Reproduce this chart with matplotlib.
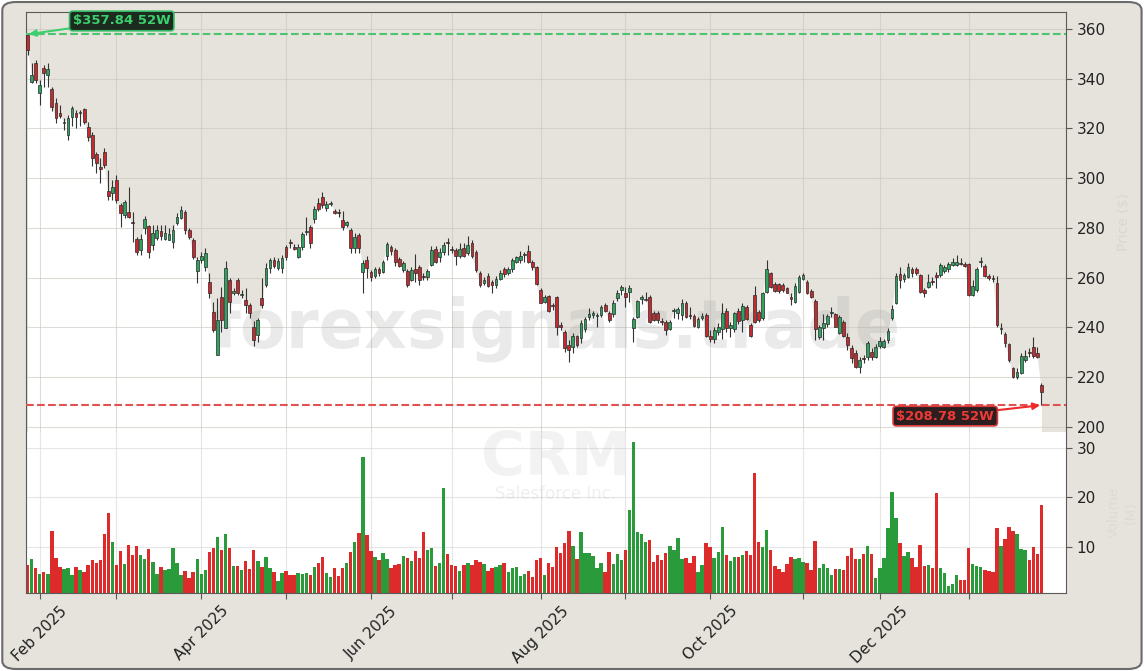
import numpy as np
import pandas as pd
import matplotlib
matplotlib.use("Agg")
import matplotlib.pyplot as plt
from matplotlib.patches import FancyBboxPatch

# ---- data (CRM daily, late Jan 2025 -> late Jan 2026) ----
start_date = "2025-01-29"
holidays = ["2025-02-17", "2025-04-18", "2025-05-26", "2025-06-19", "2025-07-04",
            "2025-09-01", "2025-11-27", "2025-12-25", "2026-01-01", "2026-01-19"]

opens = [357.6, 338.7, 346.3, 334.3, 344.3, 341.5, 335.9, 330.3, 326.2, 322.0,
         317.4, 324.6, 326.2, 326.4, 327.8, 320.6, 317.4, 309.7, 304.5, 310.5,
         294.9, 294.1, 299.3, 289.1, 285.2, 286.4, 282.2, 275.6, 271.2, 280.0,
         280.8, 273.2, 276.0, 278.8, 275.6, 275.2, 274.4, 282.0, 284.0, 286.4,
         279.2, 275.2, 262.7, 267.2, 264.3, 258.3, 246.3, 229.0, 252.3, 239.8,
         259.1, 254.0, 259.1, 253.0, 251.1, 249.0, 240.2, 237.0, 251.8, 257.1,
         263.9, 267.2, 264.0, 263.9, 272.4, 274.2, 272.4, 268.3, 272.4, 278.2,
         280.4, 283.6, 290.0, 292.4, 288.0, 289.8, 287.0, 286.6, 283.2, 281.0,
         279.2, 272.0, 277.2, 262.3, 267.2, 262.3, 260.7, 263.5, 262.3, 268.7,
         272.4, 271.2, 267.5, 263.1, 262.7, 259.1, 263.5, 264.3, 260.5, 260.3,
         265.2, 271.6, 268.3, 270.4, 274.2, 271.4, 271.2, 268.7, 272.0, 270.0,
         274.0, 270.4, 262.0, 258.0, 260.7, 258.3, 257.1, 259.5, 263.5, 262.0,
         263.5, 266.3, 267.2, 269.2, 270.8, 266.3, 264.3, 255.0, 250.2, 252.7,
         249.2, 252.3, 241.0, 238.2, 233.0, 232.2, 236.6, 235.8, 239.4, 244.2,
         245.0, 244.8, 245.0, 249.0, 245.8, 245.4, 252.0, 255.0, 253.9, 254.3,
         239.8, 244.2, 251.5, 251.2, 252.3, 245.8, 245.8, 242.8, 242.2, 239.4,
         246.6, 245.8, 245.0, 249.8, 245.0, 244.6, 240.2, 244.0, 245.0, 236.6,
         235.4, 238.2, 239.4, 246.7, 239.8, 239.4, 246.7, 243.0, 248.2, 241.0,
         253.0, 246.3, 243.8, 254.3, 262.0, 257.5, 257.5, 257.0, 256.0, 252.3,
         250.2, 254.3, 259.5, 258.3, 254.7, 250.6, 236.2, 239.8, 241.4, 245.8,
         245.4, 237.8, 242.2, 236.2, 231.6, 229.6, 224.3, 227.8, 228.3, 230.3,
         228.3, 232.6, 232.3, 235.0, 243.7, 249.7, 261.5, 259.4, 260.4, 263.4,
         263.4, 261.1, 255.1, 256.2, 258.8, 261.1, 261.1, 262.9, 263.4, 265.1,
         265.1, 266.0, 265.5, 265.5, 253.1, 255.1, 266.3, 264.7, 260.7, 260.0,
         257.8, 239.3, 237.4, 233.4, 223.6, 220.2, 221.8, 226.9, 230.3, 232.0,
         229.6, 216.9]
highs = [357.84, 346.3, 347.5, 339.5, 345.5, 346.3, 336.7, 332.3, 329.5, 324.2,
         325.4, 329.0, 327.4, 327.4, 328.2, 322.6, 318.5, 310.5, 308.0, 312.0,
         303.3, 299.3, 301.3, 290.0, 291.3, 296.5, 286.4, 276.4, 277.6, 284.8,
         281.2, 281.2, 281.0, 281.0, 281.0, 280.0, 281.0, 286.0, 288.8, 287.2,
         280.0, 276.0, 268.3, 270.4, 272.0, 262.0, 250.4, 252.0, 256.3, 266.8,
         260.0, 256.0, 260.0, 255.0, 256.0, 250.0, 242.6, 244.0, 260.0, 266.0,
         268.0, 268.5, 268.0, 269.0, 273.2, 275.5, 273.5, 273.5, 278.4, 284.4,
         281.0, 288.8, 292.0, 294.6, 291.0, 291.0, 287.6, 287.6, 287.0, 283.0,
         280.0, 278.0, 278.0, 267.2, 268.7, 263.0, 264.2, 264.2, 267.2, 274.4,
         273.0, 272.0, 268.2, 266.6, 263.5, 264.5, 269.5, 265.0, 261.8, 263.5,
         272.7, 272.6, 271.8, 274.5, 276.0, 272.7, 271.8, 273.8, 273.8, 276.8,
         275.2, 271.2, 262.7, 260.4, 261.8, 259.0, 260.6, 263.1, 264.2, 264.2,
         267.8, 268.7, 270.9, 270.5, 273.2, 267.0, 264.7, 255.7, 253.2, 253.0,
         250.0, 252.7, 242.3, 239.0, 235.0, 237.7, 237.0, 243.0, 244.4, 247.8,
         246.8, 246.0, 249.0, 250.0, 246.8, 251.0, 255.0, 257.2, 256.2, 257.1,
         244.4, 251.1, 253.1, 254.4, 253.1, 246.8, 246.8, 243.7, 243.0, 243.0,
         247.7, 248.4, 251.3, 250.8, 248.4, 245.4, 244.4, 245.9, 245.7, 239.0,
         240.3, 241.9, 250.0, 247.7, 242.3, 246.4, 247.7, 249.7, 249.0, 241.7,
         256.7, 247.0, 254.4, 267.1, 262.4, 258.4, 258.0, 257.7, 256.4, 253.7,
         257.7, 261.1, 262.0, 259.1, 255.3, 251.3, 241.0, 245.4, 245.4, 248.4,
         246.0, 245.0, 243.0, 237.7, 233.0, 230.9, 228.3, 228.9, 234.7, 231.6,
         233.4, 236.1, 235.5, 239.7, 249.0, 261.8, 264.2, 261.8, 265.8, 264.2,
         264.2, 261.5, 255.8, 261.5, 260.4, 262.4, 266.1, 265.1, 266.5, 267.8,
         269.1, 267.8, 266.5, 265.8, 259.1, 264.5, 268.2, 265.5, 261.5, 261.1,
         260.7, 241.9, 238.3, 233.7, 224.3, 223.6, 229.6, 230.9, 231.6, 236.0,
         232.0, 217.8]
lows = [349.6, 338.3, 338.3, 329.5, 336.7, 336.7, 327.0, 322.2, 324.2, 319.4,
        315.4, 321.0, 320.0, 321.0, 321.8, 315.0, 305.0, 302.0, 298.0, 304.0,
        291.3, 291.3, 290.0, 280.4, 284.0, 284.0, 274.4, 269.2, 269.2, 277.6,
        268.0, 271.0, 275.0, 275.0, 275.0, 275.0, 272.0, 281.0, 283.6, 277.6,
        275.6, 267.5, 258.0, 266.0, 262.7, 252.0, 238.0, 229.0, 238.0, 239.8,
        246.0, 253.0, 253.0, 252.0, 245.8, 244.0, 232.6, 234.0, 248.0, 256.3,
        262.0, 264.0, 263.0, 262.0, 267.0, 272.0, 271.0, 268.0, 271.0, 277.0,
        272.0, 282.0, 287.0, 288.0, 287.0, 289.0, 285.5, 284.6, 279.0, 280.5,
        270.0, 270.0, 270.0, 253.9, 260.0, 258.7, 260.0, 260.5, 261.8, 267.0,
        269.2, 264.7, 264.2, 262.5, 256.3, 258.5, 258.3, 257.0, 259.0, 259.0,
        264.8, 265.8, 266.5, 269.2, 269.0, 270.0, 265.2, 267.8, 268.2, 269.0,
        267.8, 262.5, 256.4, 257.1, 256.2, 253.9, 255.8, 258.9, 260.4, 261.1,
        262.5, 265.8, 265.8, 266.5, 265.8, 263.1, 257.1, 249.7, 250.0, 246.4,
        247.0, 237.0, 239.0, 230.0, 226.0, 229.6, 232.3, 233.8, 238.3, 243.0,
        243.7, 240.0, 244.4, 246.4, 242.3, 244.4, 250.8, 253.1, 248.1, 250.4,
        234.3, 243.7, 249.5, 250.8, 241.7, 242.8, 241.7, 241.0, 237.0, 239.0,
        243.7, 243.3, 243.0, 243.7, 243.3, 240.1, 239.7, 243.0, 236.3, 234.3,
        233.9, 237.0, 235.3, 238.0, 236.3, 238.0, 241.4, 238.3, 243.0, 236.3,
        241.7, 242.4, 243.0, 253.7, 255.7, 254.4, 254.0, 254.4, 253.7, 249.1,
        250.0, 253.7, 258.9, 253.5, 251.7, 235.0, 235.2, 235.0, 240.3, 244.1,
        240.1, 237.4, 236.0, 231.0, 225.6, 223.6, 221.8, 225.9, 227.0, 227.0,
        227.6, 231.6, 231.6, 233.6, 243.0, 249.4, 255.8, 258.4, 259.8, 260.4,
        261.1, 253.7, 252.4, 255.8, 257.1, 255.7, 260.4, 261.8, 262.4, 264.7,
        264.7, 265.1, 264.2, 252.7, 252.7, 254.4, 264.5, 260.4, 259.1, 258.4,
        240.3, 237.4, 232.3, 226.3, 219.6, 219.2, 221.3, 226.3, 228.3, 227.6,
        227.6, 208.78]
closes = [351.6, 341.5, 339.5, 337.5, 342.3, 343.9, 328.6, 324.2, 325.0, 322.6,
          324.2, 328.2, 324.6, 326.8, 322.6, 316.6, 308.1, 306.1, 303.7, 305.3,
          292.9, 296.5, 291.3, 286.0, 290.4, 284.4, 281.8, 270.4, 275.6, 283.6,
          270.4, 278.0, 279.2, 276.8, 278.0, 277.6, 279.2, 284.4, 287.2, 279.2,
          276.4, 268.3, 267.2, 268.7, 270.0, 253.9, 239.0, 243.0, 243.0, 263.9,
          250.2, 254.6, 253.9, 253.4, 249.0, 245.8, 235.0, 243.0, 249.0, 263.9,
          267.2, 264.7, 266.7, 268.0, 268.3, 273.8, 271.6, 272.4, 277.6, 278.6,
          274.0, 287.6, 287.6, 289.2, 289.6, 290.2, 286.0, 286.2, 280.4, 282.5,
          272.0, 276.4, 272.0, 266.0, 264.0, 260.3, 263.5, 262.0, 266.3, 273.6,
          270.8, 266.3, 264.7, 266.0, 257.1, 263.1, 262.0, 259.1, 260.1, 262.7,
          271.2, 266.3, 270.4, 273.2, 273.8, 271.0, 268.7, 271.6, 268.7, 273.2,
          268.7, 263.1, 257.1, 259.1, 256.7, 257.1, 259.5, 262.0, 261.5, 263.5,
          267.2, 268.3, 268.7, 269.6, 266.3, 264.3, 257.5, 249.8, 252.3, 246.7,
          248.8, 240.2, 240.2, 231.8, 231.0, 236.6, 233.0, 241.8, 243.4, 245.4,
          245.8, 245.2, 248.2, 246.7, 243.0, 249.8, 253.9, 256.3, 252.3, 256.0,
          243.4, 250.6, 252.3, 251.6, 242.2, 243.0, 243.0, 242.4, 239.0, 242.2,
          247.0, 247.4, 249.8, 244.2, 244.6, 240.6, 243.4, 244.6, 236.6, 235.4,
          239.0, 240.2, 245.8, 239.8, 241.0, 245.8, 242.6, 248.6, 243.4, 236.6,
          242.2, 243.0, 253.9, 263.5, 256.3, 254.7, 254.7, 255.0, 254.0, 251.5,
          256.7, 260.3, 261.1, 253.9, 252.3, 239.4, 240.2, 241.8, 244.6, 246.2,
          240.2, 244.2, 236.6, 233.0, 227.6, 224.3, 227.0, 227.4, 233.9, 228.3,
          232.3, 234.7, 234.7, 238.7, 247.3, 260.7, 259.1, 261.1, 264.2, 262.1,
          262.1, 254.4, 253.7, 258.4, 258.3, 260.2, 265.1, 264.2, 265.5, 266.5,
          266.5, 265.6, 264.7, 253.1, 256.7, 263.4, 266.7, 260.7, 260.0, 259.6,
          241.0, 239.7, 233.6, 227.0, 220.2, 222.2, 228.5, 228.5, 229.9, 228.5,
          228.0, 214.2]
volumes_m = [6.4, 7.6, 5.8, 4.6, 5.0, 4.6, 13.3, 7.8, 6.0, 5.6,
             5.8, 4.4, 6.0, 5.4, 5.0, 6.4, 7.4, 6.8, 7.4, 12.6,
             16.9, 11.0, 6.4, 9.2, 6.6, 10.4, 8.4, 10.2, 8.4, 7.6,
             9.6, 7.0, 4.6, 6.0, 5.4, 5.6, 9.8, 6.8, 4.4, 5.2,
             3.8, 5.0, 7.6, 4.6, 5.4, 9.0, 9.8, 12.0, 9.4, 12.6,
             9.8, 6.2, 6.2, 5.4, 7.2, 5.6, 9.4, 7.2, 6.0, 8.0,
             5.8, 5.0, 3.2, 4.8, 5.2, 4.4, 4.4, 4.8, 4.6, 4.8,
             4.4, 6.0, 6.8, 8.0, 4.8, 4.0, 5.8, 4.2, 5.8, 6.8,
             9.0, 11.0, 12.8, 28.2, 12.4, 9.2, 8.0, 7.4, 8.8, 7.6,
             5.8, 6.4, 6.6, 8.2, 7.8, 7.2, 9.2, 7.8, 13.0, 9.4,
             9.8, 6.2, 6.8, 21.9, 8.6, 6.4, 6.2, 5.2, 6.4, 6.8,
             6.4, 7.4, 7.0, 6.6, 5.2, 5.8, 6.0, 6.4, 6.8, 5.0,
             5.8, 6.0, 4.2, 4.6, 5.2, 4.0, 7.4, 7.8, 4.4, 6.8,
             6.0, 10.0, 8.8, 10.8, 13.3, 10.2, 7.6, 13.0, 8.8, 8.8,
             8.2, 5.8, 6.8, 5.0, 9.0, 6.6, 8.6, 7.4, 9.4, 17.5,
             31.2, 13.0, 12.6, 11.0, 11.4, 7.0, 8.4, 7.4, 8.8, 10.2,
             9.4, 11.8, 7.6, 7.8, 6.8, 8.2, 5.0, 6.4, 10.8, 10.0,
             7.8, 9.0, 14.1, 8.4, 7.2, 8.0, 8.0, 8.4, 9.2, 8.4,
             24.9, 11.0, 10.0, 13.5, 9.4, 6.2, 5.6, 5.0, 6.6, 8.0,
             7.6, 7.8, 7.0, 6.8, 5.4, 11.2, 5.8, 6.6, 5.8, 4.4,
             5.6, 5.6, 5.4, 8.2, 9.8, 7.6, 7.6, 8.6, 10.2, 8.6,
             3.8, 5.8, 7.8, 13.9, 21.1, 15.9, 10.8, 8.2, 9.0, 7.8,
             6.0, 10.4, 6.2, 6.4, 5.8, 20.9, 5.8, 4.8, 2.2, 2.6,
             4.4, 3.4, 3.4, 9.8, 6.6, 6.2, 6.0, 5.4, 5.2, 5.0,
             13.9, 10.2, 11.6, 14.1, 13.3, 12.6, 9.6, 9.4, 7.4, 10.0,
             8.6, 18.5]

high_52w = 357.84
low_52w = 208.78
ticker = "CRM"
company = "Salesforce Inc."

# ---- derived ----
n = len(closes)
x = np.arange(n)
o = np.array(opens)
h = np.array(highs)
l = np.array(lows)
c = np.array(closes)
v = np.array(volumes_m)
up = c >= o
dates = pd.bdate_range(start_date, periods=n, freq="C", holidays=holidays)

BG = "#e6e3dc"
UP_BODY, DN_BODY = "#2ea35f", "#c62a2f"
UP_VOL, DN_VOL = "#1e9630", "#dc1f1f"
SPINE = "#5a5a5a"

fig = plt.figure(figsize=(11.45, 6.71), dpi=100, facecolor="white")
fig.patches.append(FancyBboxPatch((0.002, 0.003), 0.995, 0.994,
                                  boxstyle="round,pad=0,rounding_size=0.012",
                                  transform=fig.transFigure, fc=BG, ec="#6a6a6a",
                                  lw=1.5, zorder=-10))

L, W = 0.0227, 0.9083
ax = fig.add_axes([L, 0.3562, W, 0.6259])
axv = fig.add_axes([L, 0.1162, W, 0.2400], sharex=ax)

# ---- price panel ----
ax.set_facecolor(BG)
ax.fill_between(x, c, 150, color="white", zorder=0.2, lw=0)
ax.vlines(x, l, h, color="#333333", lw=0.8, zorder=2)
body_h = np.maximum(np.abs(c - o), 0.35)
ax.bar(x, body_h, bottom=np.minimum(o, c), width=0.68,
       color=np.where(up, UP_BODY, DN_BODY), edgecolor="#2a2a2a", linewidth=0.5, zorder=3)

ax.axhline(high_52w, color="#4cc470", ls="--", lw=1.5, zorder=4)
ax.axhline(low_52w, color="#e05252", ls="--", lw=1.5, zorder=4)
ax.annotate(r"\$%.2f 52W" % high_52w, xy=(0, high_52w), xytext=(23.3, 363.2),
            ha="center", va="center", fontsize=9.5, fontweight="bold", color="#3ccf6e",
            bbox=dict(boxstyle="round,pad=0.25", fc="#1c2a20", ec="#33b862", lw=1.2),
            arrowprops=dict(arrowstyle="-|>", color="#3ccf6e", lw=1.5, mutation_scale=10,
                            shrinkA=0, shrinkB=1), zorder=6)
ax.annotate(r"\$%.2f 52W" % low_52w, xy=(n - 1, low_52w), xytext=(227.2, 204.4),
            ha="center", va="center", fontsize=9.5, fontweight="bold", color="#ee3a36",
            bbox=dict(boxstyle="round,pad=0.25", fc="#2c1e1e", ec="#d83a3a", lw=1.2),
            arrowprops=dict(arrowstyle="-|>", color="#ee2a2a", lw=1.5, mutation_scale=10,
                            shrinkA=0, shrinkB=1), zorder=6)

ax.text(0.51, 0.245, "forexsignals.trade", transform=ax.transAxes, ha="center",
        va="center", fontsize=48, fontweight="bold", color="#9a9a9a", alpha=0.2, zorder=1)

ax.set_ylim(198.0, 366.8)
ax.set_yticks(np.arange(200, 361, 20))
ax.yaxis.tick_right()
ax.yaxis.set_label_position("right")
ax.set_ylabel("Price ($)", color="#dad7d0", fontsize=10, labelpad=8)
ax.grid(True, color="#c9c6bf", lw=0.8, alpha=0.6)
ax.set_axisbelow(True)
ax.tick_params(axis="y", labelsize=11, colors="#222222", length=4, color=SPINE)
ax.tick_params(axis="x", bottom=False, labelbottom=False)
ax.spines["bottom"].set_visible(False)
for s in ("top", "left", "right"):
    ax.spines[s].set_color(SPINE)

# ---- volume panel ----
axv.set_facecolor("white")
axv.bar(x, v, width=0.85, color=np.where(up, UP_VOL, DN_VOL), alpha=0.95, lw=0, zorder=2)
axv.set_ylim(0.7, 33.2)
axv.set_yticks([10, 20, 30])
axv.yaxis.tick_right()
axv.yaxis.set_label_position("right")
axv.set_ylabel("Volume\n(M)", color="#dedbd4", fontsize=10, labelpad=8)
axv.grid(True, color="#d6d6d6", lw=0.8, alpha=0.6)
axv.set_axisbelow(True)
axv.spines["top"].set_visible(False)
for s in ("bottom", "left", "right"):
    axv.spines[s].set_color(SPINE)

month_idx = [i for i in range(1, n) if dates[i].month != dates[i - 1].month]
month_lab = [dates[i].strftime("%b %Y") if dates[i].month % 2 == 0 else "" for i in month_idx]
axv.set_xticks(month_idx)
axv.set_xticklabels(month_lab, rotation=45)
axv.tick_params(axis="both", labelsize=11, colors="#222222", length=4, color=SPINE)
axv.set_xlim(-0.4, n + 5.1)

fig.text(0.4856, 0.316, ticker, ha="center", va="center", fontsize=43,
         fontweight="bold", color="#9a9a9a", alpha=0.12)
fig.text(0.4856, 0.264, company, ha="center", va="center", fontsize=12,
         color="#9a9a9a", alpha=0.15)

fig.savefig("out.png", dpi=100, facecolor=fig.get_facecolor())
